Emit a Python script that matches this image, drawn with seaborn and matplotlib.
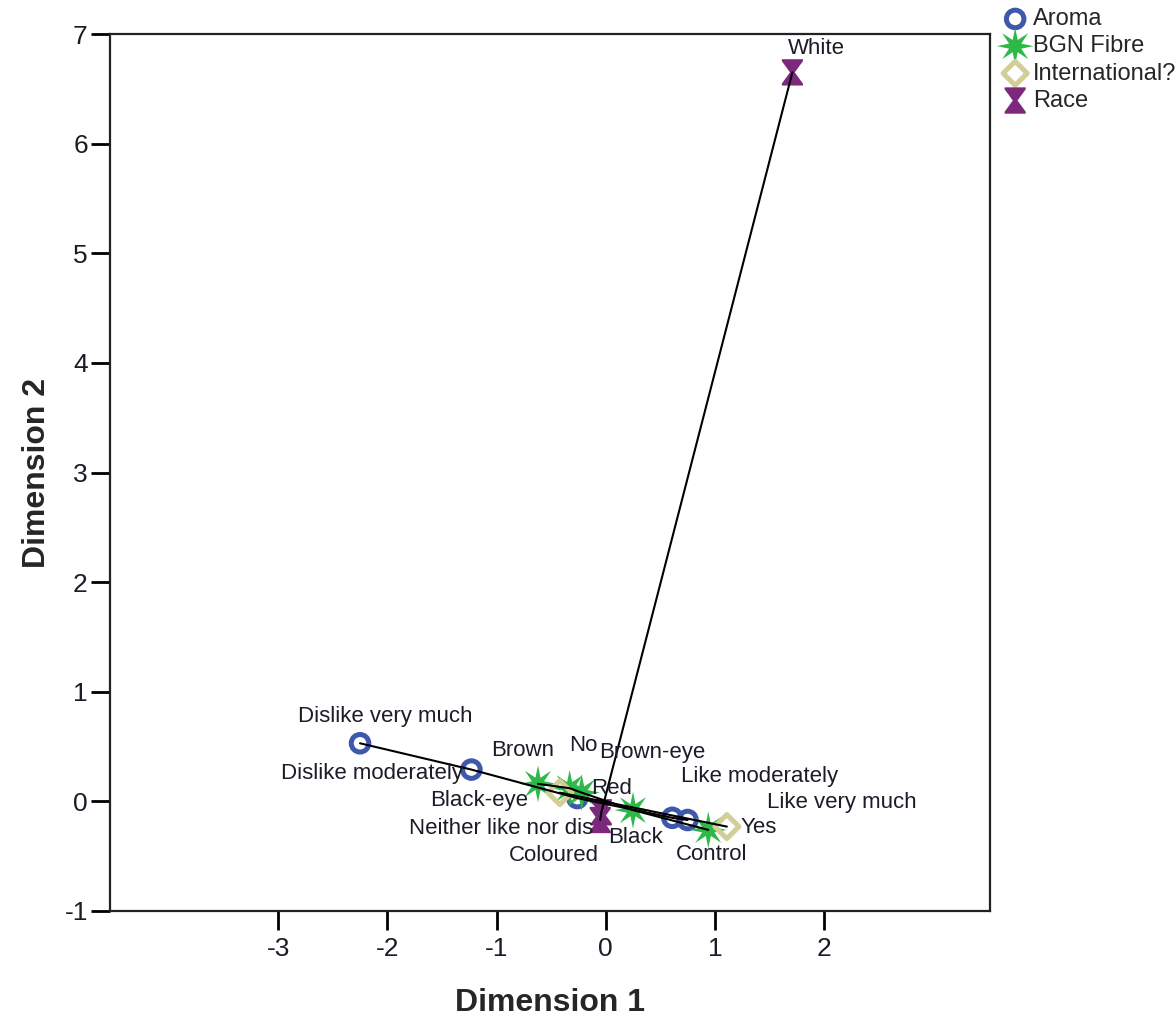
import matplotlib
matplotlib.use("Agg")
import matplotlib.pyplot as plt
from matplotlib.path import Path
import seaborn as sns
import numpy as np
import pandas as pd

# Category points (object scores on the two dimensions)
aroma_labels = ["Dislike very much", "Dislike moderately", "Neither like nor dis",
                "Like moderately", "Like very much"]
aroma_d1 = [-2.25, -1.23, -0.26, 0.61, 0.75]
aroma_d2 = [0.53, 0.29, 0.03, -0.15, -0.17]

fibre_labels = ["Brown", "Black-eye", "Brown-eye", "Red", "Control"]
fibre_d1 = [-0.62, -0.33, -0.22, 0.25, 0.94]
fibre_d2 = [0.16, 0.12, 0.08, -0.08, -0.26]

intl_labels = ["No", "Yes"]
intl_d1 = [-0.42, 1.11]
intl_d2 = [0.08, -0.23]

race_labels = ["White", "Black", "Coloured"]
race_d1 = [1.71, -0.04, -0.05]
race_d2 = [6.65, -0.10, -0.17]

variables = ["Aroma", "BGN Fibre", "International?", "Race"]

frames = []
for var, labs, d1, d2 in [
    ("Aroma", aroma_labels, aroma_d1, aroma_d2),
    ("BGN Fibre", fibre_labels, fibre_d1, fibre_d2),
    ("International?", intl_labels, intl_d1, intl_d2),
    ("Race", race_labels, race_d1, race_d2),
]:
    frames.append(pd.DataFrame({"variable": var, "category": labs, "dim1": d1, "dim2": d2}))
df = pd.concat(frames, ignore_index=True)

# Label offsets (pixels) from each point to the centre of its label
label_offsets = {
    "Dislike very much": (25, 27), "Dislike moderately": (-99, -4),
    "Neither like nor dis": (-76, -30), "Like moderately": (87, 41),
    "Like very much": (154, 18), "Brown": (-15, 33), "Black-eye": (-91, -12),
    "Brown-eye": (71, 40), "Red": (-21, 22), "Control": (3, -25),
    "No": (23, 47), "Yes": (32, -1), "White": (24, 24), "Black": (34, -25),
    "Coloured": (-46, -35),
}

# Marker shapes
star_n = 8
ang = np.linspace(0, 2 * np.pi, 2 * star_n, endpoint=False) + np.pi / 2
rad = np.where(np.arange(2 * star_n) % 2 == 0, 1.0, 0.36)
star_path = Path(list(zip(rad * np.cos(ang), rad * np.sin(ang))) + [(0, 1)], closed=True)
diamond_path = Path([(0, 1), (1, 0), (0, -1), (-1, 0), (0, 1)], closed=True)
hourglass_path = Path([(-0.8, 1), (0.8, 1), (0.8, 0.85), (0.18, 0), (0.8, -0.85),
                       (0.8, -1), (-0.8, -1), (-0.8, -0.85), (-0.18, 0), (-0.8, 0.85),
                       (-0.8, 1)], closed=True)

styles = {
    "Aroma": dict(marker="o", s=160, facecolor="none", edgecolor="#3E58AC", linewidth=3.6),
    "BGN Fibre": dict(marker=star_path, s=700, color="#2EB848", edgecolor="none", linewidth=0),
    "International?": dict(marker=diamond_path, s=300, facecolor="none", edgecolor="#D3CE97", linewidth=3.6),
    "Race": dict(marker=hourglass_path, s=360, color="#7C287D", edgecolor="none", linewidth=0),
}

sns.set_theme(style="white")
plt.rcParams["font.family"] = ["Liberation Sans", "DejaVu Sans"]
plt.rcParams["axes.unicode_minus"] = False

fig = plt.figure(figsize=(11.75, 10.17), dpi=100)
ax = fig.add_axes([110 / 1175, 1 - 911 / 1017, 880 / 1175, 877 / 1017])

for var in variables:
    sub = df[df["variable"] == var]
    sns.scatterplot(data=sub, x="dim1", y="dim2", ax=ax, label=var, zorder=3,
                    legend=False, **styles[var])
    # category points of each variable lie on one line
    srt = sub.sort_values("dim1")
    ax.plot(srt["dim1"], srt["dim2"], color="black", lw=1.5, zorder=4)

for _, row in df.iterrows():
    dx, dy = label_offsets[row["category"]]
    ax.annotate(row["category"], (row["dim1"], row["dim2"]), xytext=(dx, dy),
                textcoords="offset pixels", ha="center", va="center",
                fontsize=16, color="#1c1c28", zorder=5)

ax.set_xlim(-4.54, 3.52)
ax.set_ylim(-1, 7)
ax.set_xticks([-3, -2, -1, 0, 1, 2])
ax.set_yticks(range(-1, 8))
ax.tick_params(axis="both", which="major", direction="out", length=14, width=2,
               color="black", labelsize=19, labelcolor="#1c1c28",
               bottom=True, left=True, top=False, right=False)
ax.tick_params(axis="x", pad=5)
ax.tick_params(axis="y", pad=2)
for sp in ax.spines.values():
    sp.set_color("#222222")
    sp.set_linewidth(1.6)

ax.set_xlabel("Dimension 1", fontsize=23, fontweight="bold", labelpad=19)
ax.set_ylabel("Dimension 2", fontsize=23, fontweight="bold", labelpad=9)

handles, labels = ax.get_legend_handles_labels()
fig.legend(handles, labels, loc="upper left", bbox_to_anchor=(1001 / 1175, 0.992),
           frameon=False, fontsize=17, handlelength=1.2, handletextpad=0.15,
           labelspacing=0.22, borderpad=0, borderaxespad=0, markerscale=1.0)

fig.savefig("out.png", dpi=100)
